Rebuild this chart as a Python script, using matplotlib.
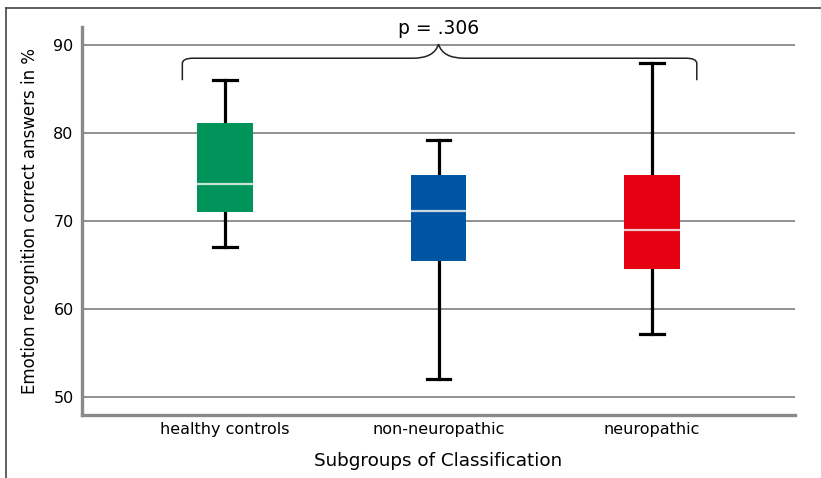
import matplotlib
matplotlib.use("Agg")
import matplotlib.pyplot as plt
from matplotlib.lines import Line2D
from matplotlib.path import Path
from matplotlib.patches import PathPatch

categories = ["healthy controls", "non-neuropathic", "neuropathic"]
whisker_low = [67.0, 52.0, 57.1]
q1 = [71.0, 65.5, 64.5]
median = [74.2, 71.1, 69.0]
q3 = [81.1, 75.2, 75.2]
whisker_high = [86.0, 79.2, 88.0]
colors = ["#00945A", "#0055A2", "#E50012"]
yticks = [50, 60, 70, 80, 90]
p_text = "p = .306"

W, H = 821, 478
fig = plt.figure(figsize=(W / 100, H / 100), dpi=100)
ax = fig.add_axes([82 / W, 1 - 415 / H, (795 - 82) / W, (415 - 27) / H])

stats = []
for i, c in enumerate(categories):
    stats.append(dict(label=c, whislo=whisker_low[i], q1=q1[i], med=median[i],
                      q3=q3[i], whishi=whisker_high[i], fliers=[]))

bp = ax.bxp(stats, positions=range(len(categories)), widths=0.262,
            patch_artist=True, showfliers=False, manage_ticks=False,
            boxprops=dict(linewidth=0),
            whiskerprops=dict(color="black", linewidth=2.3),
            capprops=dict(color="black", linewidth=2.3),
            medianprops=dict(color="#F0F0F0", linewidth=1.6, alpha=0.85))
for patch, col in zip(bp["boxes"], colors):
    patch.set_facecolor(col)
    patch.set_edgecolor(col)
for cap in bp["caps"]:
    x = cap.get_xdata()
    m = (x[0] + x[1]) / 2
    cap.set_xdata([m - 0.054, m + 0.054])
for wl in bp["whiskers"]:
    wl.set_zorder(1.5)

ax.set_xlim(-0.67, 2.67)
ax.set_ylim(47.95, 92.05)
ax.set_yticks(yticks)
ax.set_xticks(range(len(categories)))
ax.set_xticklabels(categories)
ax.yaxis.grid(True, color="#888888", linewidth=1.3)
ax.set_axisbelow(True)
ax.tick_params(axis="both", length=0, labelsize=11.5, colors="black")
ax.tick_params(axis="y", pad=6)
ax.tick_params(axis="x", pad=5)
for s in ["top", "right"]:
    ax.spines[s].set_visible(False)
for s in ["left", "bottom"]:
    ax.spines[s].set_color("#8a8a8a")
    ax.spines[s].set_linewidth(2.4)

ax.set_xlabel("Subgroups of Classification", fontsize=13.2, labelpad=11)
ax.set_ylabel("Emotion recognition correct answers in %", fontsize=12, labelpad=10)

# brace over all groups
xl, xr, xm = -0.2, 2.21, 1.0
yb, yh, yt = 86.0, 88.5, 90.1
r = 0.05
verts = [(xl, yb), (xl, yh - 0.6), (xl, yh), (xl + r, yh),
         (xm - 0.12, yh), (xm - 0.02, yh), (xm, yt),
         (xm + 0.02, yh), (xm + 0.12, yh),
         (xr - r, yh), (xr, yh), (xr, yh - 0.6), (xr, yb)]
codes = [Path.MOVETO, Path.LINETO, Path.CURVE3, Path.CURVE3,
         Path.LINETO, Path.CURVE3, Path.CURVE3,
         Path.CURVE3, Path.CURVE3,
         Path.LINETO, Path.CURVE3, Path.CURVE3, Path.LINETO]
brace = PathPatch(Path(verts, codes), facecolor="none", edgecolor="#222222",
                  linewidth=1.1, clip_on=False, zorder=5)
ax.add_patch(brace)
ax.text(xm, 90.75, p_text, ha="center", va="bottom", fontsize=13.5, clip_on=False)

# outer frame (top and left)
fig.add_artist(Line2D([6 / W, 1], [1 - 7.5 / H, 1 - 7.5 / H], color="#444444", linewidth=1.2))
fig.add_artist(Line2D([6 / W, 6 / W], [0, 1 - 7.5 / H], color="#444444", linewidth=1.2))

fig.savefig("out.png", dpi=100)
